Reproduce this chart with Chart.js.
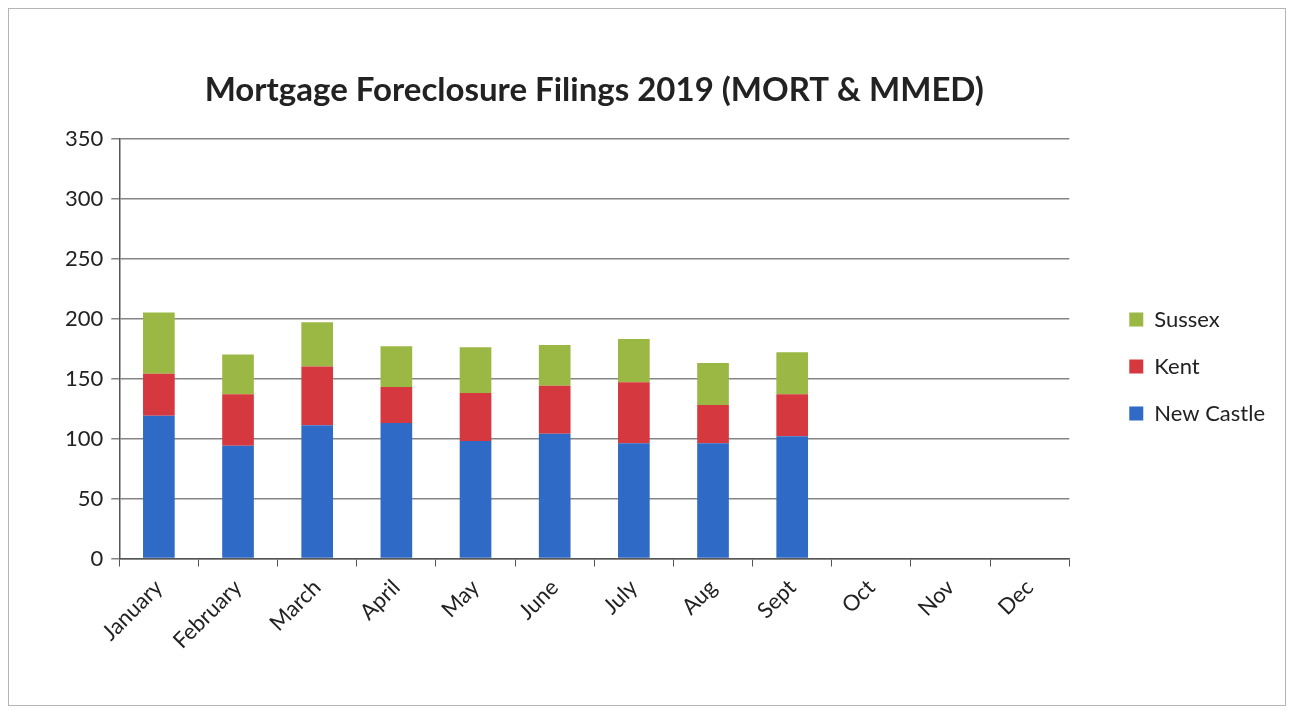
<!DOCTYPE html>
<html>
<head>
<meta charset="utf-8">
<script src="https://cdn.jsdelivr.net/npm/chart.js@4.4.1/dist/chart.umd.min.js"></script>
<style>
  body { margin: 0; background: #fff; }
  #frame { position: absolute; left: 8px; top: 8px; width: 1276px; height: 696px; border: 1px solid #b5b5b5; }
</style>
</head>
<body>
<div id="frame"><canvas id="myChart" width="1276" height="696"></canvas></div>
<script>
const months = ['January', 'February', 'March', 'April', 'May', 'June', 'July', 'Aug', 'Sept', 'Oct', 'Nov', 'Dec'];
const newCastle = [119, 94, 111, 113, 98, 104, 96, 96, 102, null, null, null];
const kent = [35, 43, 49, 30, 40, 40, 51, 32, 35, null, null, null];
const sussex = [51, 33, 37, 34, 38, 34, 36, 35, 35, null, null, null];
const yTicks = [0, 50, 100, 150, 200, 250, 300, 350];

const ctx = document.getElementById('myChart').getContext('2d');
new Chart(ctx, {
  type: 'bar',
  data: {
    labels: months,
    datasets: [
      { label: 'New Castle', data: newCastle, backgroundColor: '#2f6bc6' },
      { label: 'Kent', data: kent, backgroundColor: '#d6383f' },
      { label: 'Sussex', data: sussex, backgroundColor: '#9bb744' }
    ]
  },
  options: {
    responsive: false,
    animation: false,
    layout: { padding: { left: 48, right: 10, top: 62, bottom: 43 } },
    datasets: { bar: { categoryPercentage: 1.0, barPercentage: 0.4 } },
    plugins: {
      title: {
        display: true,
        fullSize: false,
        text: 'Mortgage Foreclosure Filings 2019 (MORT & MMED)',
        font: { family: 'Lato', size: 33, weight: 'bold' },
        color: '#222',
        padding: { top: 0, bottom: 28 }
      },
      legend: {
        position: 'right',
        reverse: true,
        labels: {
          font: { family: 'Lato', size: 22 },
          color: '#222',
          boxWidth: 14,
          boxHeight: 14,
          padding: 25
        }
      },
      tooltip: { enabled: false }
    },
    scales: {
      x: {
        stacked: true,
        grid: { drawOnChartArea: false, drawTicks: true, tickLength: 8, offset: true, color: '#555' },
        border: { color: '#555', width: 1.5 },
        ticks: {
          font: { family: 'Lato', size: 22 },
          color: '#222',
          maxRotation: 45,
          minRotation: 45,
          padding: 8
        }
      },
      y: {
        stacked: true,
        min: 0,
        max: 350,
        afterBuildTicks: (axis) => { axis.ticks = yTicks.map(v => ({ value: v })); },
        grid: { color: '#858585', lineWidth: 1.5, tickLength: 8 },
        border: { color: '#555', width: 1.5 },
        ticks: {
          font: { family: 'Lato', size: 22 },
          color: '#222',
          padding: 8
        }
      },
      gap: {
        position: 'right',
        display: true,
        grid: { display: false },
        border: { display: false },
        ticks: { display: false },
        afterFit: (scale) => { scale.width = 35; }
      }
    }
  }
});
</script>
</body>
</html>
